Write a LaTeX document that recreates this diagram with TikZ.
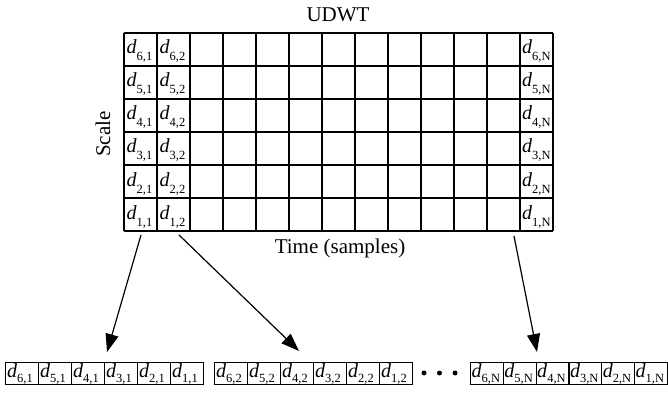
\documentclass[tikz,border=0pt]{standalone}
\usepackage{fontspec}
\setmainfont{Liberation Serif}
\usetikzlibrary{arrows.meta}
\newcommand{\dlab}[3]{\textit{d}\raisebox{-#3}{\fontsize{12.5}{12.5}\selectfont #1,#2}}
\begin{document}
\begin{tikzpicture}[x=1pt,y=-1pt, line width=1.2pt,
  lbl/.style={inner sep=0pt, anchor=base west, font=\fontsize{20}{20}\selectfont},
  captext/.style={inner sep=0pt, font=\fontsize{21}{21}\selectfont},
  bcell/.style={draw, line width=1.2pt, inner sep=0pt, anchor=north west, minimum height=22pt},
  arr/.style={-{Triangle[length=18pt,width=13pt]}, line width=1.2pt},
  bdot/.style={circle, fill, inner sep=0pt, minimum size=5pt}]
\useasboundingbox (0,0) rectangle (668,403);
% main grid
\foreach \i in {0,...,13} \draw (124+33*\i,33) -- (124+33*\i,231);
\foreach \j in {0,...,6} \draw (124,33+33*\j) -- (553,33+33*\j);
\foreach \r in {1,...,6} {
  \node[lbl] (g\r-1) at (126, 33+33*6-33*\r+21) {\dlab{\r}{1}{7pt}};
  \node[lbl] (g\r-2) at (159, 33+33*6-33*\r+21) {\dlab{\r}{2}{7pt}};
  \node[lbl] (g\r-N) at (521.5, 33+33*6-33*\r+21) {\dlab{\r}{N}{7pt}};
}
\node[captext] (title) at (338,15) {UDWT};
\node[captext] (time) at (340,248) {Time (samples)};
\node[captext, rotate=90] (scale) at (103,134) {Scale};
% bottom strips
\foreach \k/\r in {0/6,1/5,2/4,3/3,4/2,5/1} {
  \node[bcell, minimum width=33pt] (a\r) at (5+33*\k,362) {};
  \node[lbl] (la\r) at ([xshift=1.5pt,yshift=-15pt]a\r.north west) {\dlab{\r}{1}{5.5pt}};
  \node[bcell, minimum width=33pt] (b\r) at (214+33*\k,362) {};
  \node[lbl] (lb\r) at ([xshift=1.5pt,yshift=-15pt]b\r.north west) {\dlab{\r}{2}{5.5pt}};
  \node[bcell, minimum width=32.8pt] (c\r) at (470+32.8*\k,362) {};
  \node[lbl] (lc\r) at ([xshift=1pt,yshift=-15pt]c\r.north west) {\dlab{\r}{N}{5.5pt}};
}
\node[bdot] (p1) at (424,373) {};
\node[bdot] (p2) at (439.5,373) {};
\node[bdot] (p3) at (455,373) {};
% arrows
\coordinate (s1) at (141,235); \coordinate (t1) at (107,352);
\coordinate (s2) at (179,235); \coordinate (t2) at (299,351);
\coordinate (s3) at (514,236); \coordinate (t3) at (537,352);
\draw[arr] (s1) -- (t1);
\draw[arr] (s2) -- (t2);
\draw[arr] (s3) -- (t3);
\end{tikzpicture}
\end{document}
